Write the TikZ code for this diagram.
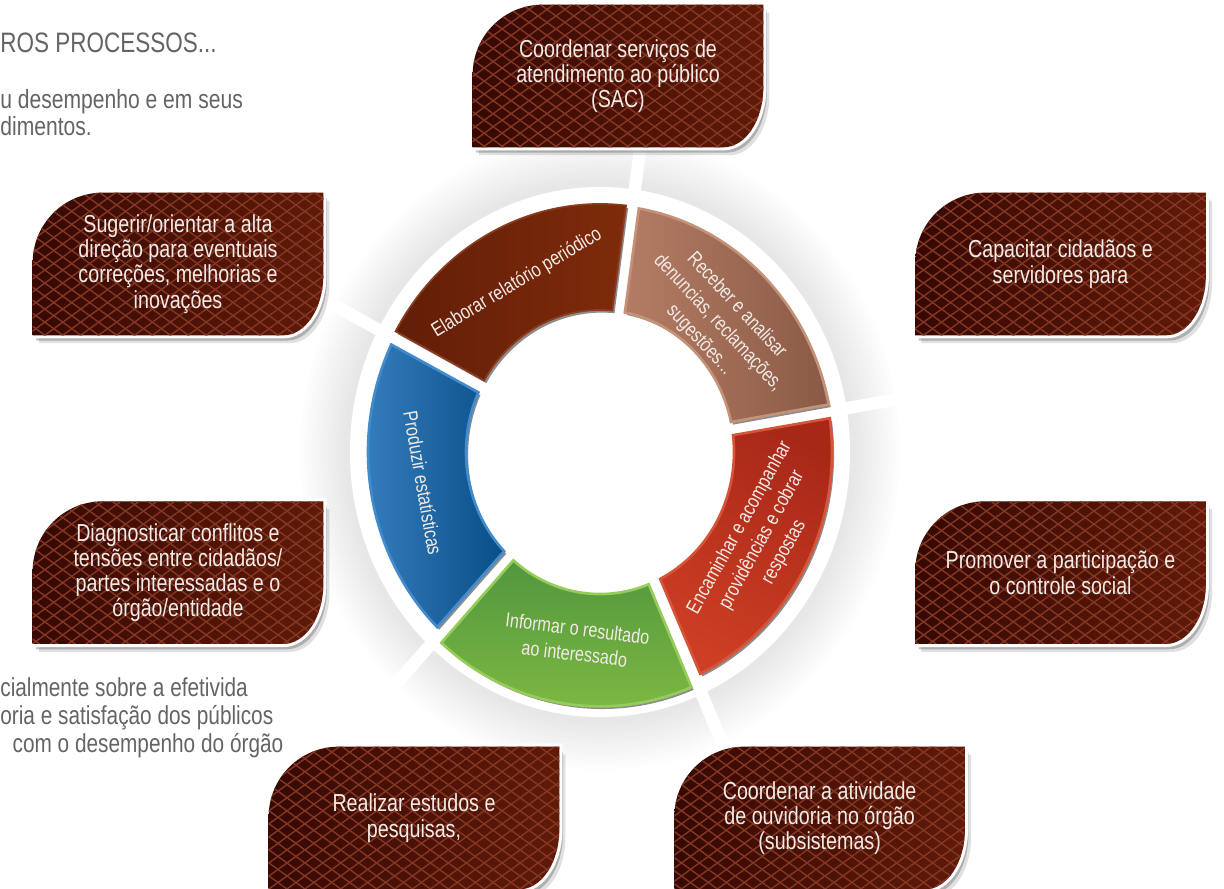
\documentclass[tikz,border=0pt]{standalone}
\usepackage{fontspec}
\setmainfont{Liberation Sans}[FakeStretch=0.8]
\usetikzlibrary{positioning,shadows,patterns.meta}

\definecolor{carddark}{RGB}{54,9,4}
\definecolor{cardlight}{RGB}{96,26,8}
\definecolor{cardline}{RGB}{132,56,36}
\definecolor{captext}{RGB}{242,234,230}
\definecolor{sidegray}{RGB}{100,100,100}
\definecolor{elabA}{RGB}{98,30,8}
\definecolor{elabB}{RGB}{126,43,10}
\definecolor{elabE}{RGB}{140,60,30}
\definecolor{recA}{RGB}{180,124,100}
\definecolor{recB}{RGB}{138,90,70}
\definecolor{recE}{RGB}{196,146,120}
\definecolor{encA}{RGB}{205,62,36}
\definecolor{encB}{RGB}{168,40,24}
\definecolor{encE}{RGB}{214,84,56}
\definecolor{infA}{RGB}{82,150,62}
\definecolor{infB}{RGB}{128,188,66}
\definecolor{infE}{RGB}{150,205,90}
\definecolor{proA}{RGB}{58,130,196}
\definecolor{proB}{RGB}{8,78,134}
\definecolor{proE}{RGB}{66,140,206}

\pgfdeclarelayer{bg}
\pgfsetlayers{bg,main}

\begin{document}
\begin{tikzpicture}[x=0.02cm,y=0.02cm,node distance=1cm,
    card/.style={minimum width=5.8cm,minimum height=2.84cm,inner sep=0pt,align=center,text=captext,font=\fontsize{14}{14.4}\selectfont},
    card path/.style={insert path={(#1.south west) -- ([yshift=-1.4cm]#1.north west) arc[start angle=180,end angle=90,x radius=1.4cm,y radius=1.4cm] -- (#1.north east) -- ([yshift=1.2cm]#1.south east) arc[start angle=0,end angle=-90,x radius=0.8cm,y radius=1.2cm] -- cycle}},
    sector/.style n args={3}{insert path={({#1+1.6}:#3) arc[start angle=#1+1.6,end angle=#2-1.6,radius=#3] -- ({#2-2.7}:134) arc[start angle=#2-2.7,end angle=#1+2.7,radius=134] -- cycle}},
    segshadow/.style={drop shadow={shadow xshift=1.2pt,shadow yshift=-1.5pt,opacity=.6,fill=black!75}},
    segment/.style={inner sep=0pt,align=center,text=captext,font=\fontsize{11.5}{14.4}\selectfont},
    side text/.style={inner sep=0pt,align=left,text=sidegray,font=\fontsize{15}{15.6}\selectfont}]

    \useasboundingbox (0,0) rectangle (1224,-889);

    % textos cortados na margem
    \node[side text,anchor=base west,font=\fontsize{16}{17}\selectfont] (titulo) at (0,-52) {ROS PROCESSOS...};
    \node[side text,anchor=north west] (intro) at (0,-89) {u desempenho e em seus\\dimentos.};
    \node[side text,anchor=north west,font=\fontsize{14.8}{15.9}\selectfont] (efetividade) at (0,-677) {cialmente sobre a efetivida\\oria e satisfação dos públicos\\\hspace*{7pt}com o desempenho do órgão};

    % cartoes
    \node[card] (sac) at (618,-76) {Coordenar serviços de\\atendimento ao público\\(SAC)};
    \node[card] (sugerir) at (178,-264) {Sugerir/orientar a alta\\direção para eventuais\\correções, melhorias e\\inovações};
    \node[card] (diagnosticar) [below=3.32cm of sugerir] {Diagnosticar conflitos e\\tensões entre cidadãos/\\partes interessadas e o\\órgão/entidade};
    \node[card] (capacitar) [right=11.84cm of sugerir] {Capacitar cidadãos e\\servidores para};
    \node[card] (promover) [below=3.32cm of capacitar] {Promover a participação e\\o controle social};
    \node[card] (estudos) at (414,-818) {Realizar estudos e\\pesquisas,};
    \node[card] (atividade) [right=2.3cm of estudos] {Coordenar a atividade\\de ouvidoria no órgão\\(subsistemas)};

    % anel
    \coordinate (ctr) at (600,-452);
    \node[segment,rotate=31] (elaborar) at (517,-283) {Elaborar relatório periódico};
    \node[segment,rotate=-47] (receber) at (718,-323) {Receber e analisar\\denuncias, reclamações,\\sugestões...};
    \node[segment,rotate=61] (encaminhar) at (762,-540) {Encaminhar e acompanhar\\providências e cobrar\\respostas};
    \node[segment,rotate=-7] (informar) at (576,-641) {Informar o resultado\\ao interessado};
    \node[segment,rotate=-80] (produzir) at (423,-483) {Produzir estatísticas};

    \begin{pgfonlayer}{bg}
      \begin{scope}[shift={(ctr)},yscale=1.06]
        \foreach \r in {300,296,...,254}
          \fill[black,opacity=.008] (0,0) circle[radius=\r];
        \fill[white] (0,0) circle[radius=250];
        \foreach \g in {82,9.5,-66,-133,152.5}
          \draw[white,line width=7pt] (0,0) -- (\g:330);
        \path[segshadow,left color=elabA,right color=elabB,draw=elabE,line width=1pt] [sector={82}{152.5}{234}];
        \path[segshadow,left color=recA,right color=recB,draw=recE,line width=1.5pt] [sector={9.5}{82}{233}];
        \path[segshadow,left color=encA,right color=encB,shading angle=150,draw=encE,line width=1.5pt] [sector={-66}{9.5}{232}];
        \path[segshadow,left color=infA,right color=infB,shading angle=0,draw=infE,line width=1.5pt] [sector={-133}{-66}{240}];
        \path[segshadow,left color=proA,right color=proB,draw=proE,line width=1.5pt] [sector={152.5}{227}{232}];
      \end{scope}

      \foreach \n in {sac,sugerir,capacitar,diagnosticar,promover,estudos,atividade}{
        \fill[black,opacity=.12,transform canvas={xshift=3.5pt,yshift=-4.5pt}] [card path=\n];
        \fill[black,opacity=.22,transform canvas={xshift=2pt,yshift=-3pt}] [card path=\n];
        \draw[white,line width=3.5pt] [card path=\n];
        \path[left color=carddark,right color=cardlight] [card path=\n];
        \path[pattern={Lines[angle=36,distance=6pt,line width=.8pt]},pattern color=cardline] [card path=\n];
        \path[pattern={Lines[angle=-36,distance=6pt,line width=.8pt]},pattern color=cardline] [card path=\n];
      }
    \end{pgfonlayer}
\end{tikzpicture}
\end{document}
